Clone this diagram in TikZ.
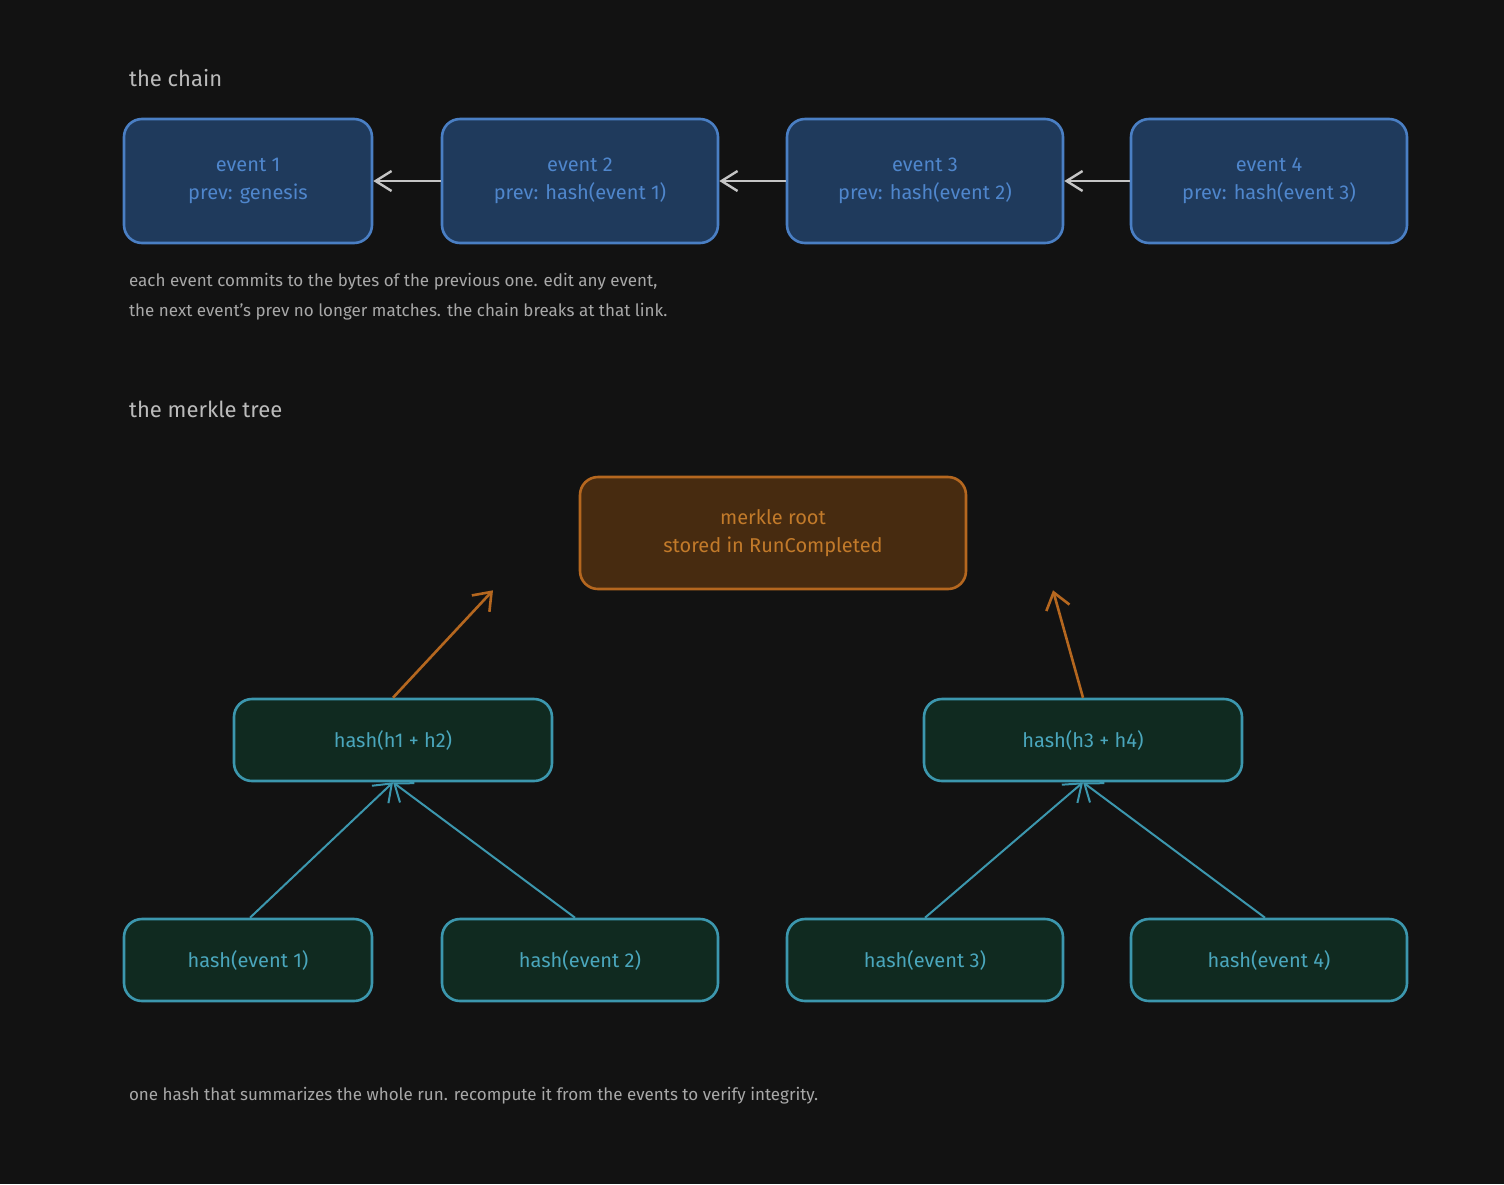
\documentclass[tikz,border=0pt]{standalone}
\usepackage{fontspec}
\setmainfont{Fira Sans}
\usetikzlibrary{arrows.meta}
\definecolor{bg}{HTML}{121212}
\definecolor{bfill}{HTML}{1F3A5C}
\definecolor{bline}{HTML}{4A7FC4}
\definecolor{btext}{HTML}{4F86CC}
\definecolor{ofill}{HTML}{472B10}
\definecolor{oline}{HTML}{B5671F}
\definecolor{otext}{HTML}{C27A2A}
\definecolor{gfill}{HTML}{102A20}
\definecolor{gline}{HTML}{3C97AE}
\definecolor{gtext}{HTML}{4AA6BC}
\definecolor{ttl}{HTML}{BBBBBB}
\definecolor{cap}{HTML}{A8A8A8}
\begin{document}
\begin{tikzpicture}[x=0.5pt,y=-0.5pt,
 box/.style={draw,line width=1.3pt,rounded corners=9pt,align=center,inner sep=0pt,font=\fontsize{10}{14}\selectfont},
 blue/.style={box,fill=bfill,draw=bline,text=btext,minimum width=124pt,minimum height=62pt},
 green/.style={box,fill=gfill,draw=gline,text=gtext,minimum height=41pt},
 orange/.style={box,fill=ofill,draw=oline,text=otext,minimum width=193pt,minimum height=56pt},
 title/.style={anchor=west,text=ttl,font=\fontsize{11}{13}\selectfont},
 caption/.style={anchor=west,text=cap,align=left,font=\fontsize{8.5}{15}\selectfont},
 chainarr/.style={draw=ttl!85,line width=1.2pt,-{Straight Barb[length=8pt,width=10pt]}},
 garr/.style={draw=gline,line width=1pt,-{Straight Barb[length=8pt,width=12pt]}},
 oarr/.style={draw=oline,line width=1.3pt,-{Straight Barb[length=8pt,width=12pt]}}]
\fill[bg] (0,0) rectangle (1504,1184);
\node[title] (t1) at (122,78) {the chain};
\node[blue] (e1) at (248,181) {event 1\\prev: genesis};
\node[blue,minimum width=138pt] (e2) at (580,181) {event 2\\prev: hash(event 1)};
\node[blue,minimum width=138pt] (e3) at (925,181) {event 3\\prev: hash(event 2)};
\node[blue,minimum width=138pt] (e4) at (1269,181) {event 4\\prev: hash(event 3)};
\draw[chainarr] (e2) -- (e1);
\draw[chainarr] (e3) -- (e2);
\draw[chainarr] (e4) -- (e3);
\node[caption] (c1) at (122,297) {each event commits to the bytes of the previous one. edit any event,\\the next event's prev no longer matches. the chain breaks at that link.};
\node[title] (t2) at (122,409) {the merkle tree};
\node[orange] (root) at (773,533) {merkle root\\stored in RunCompleted};
\node[green,minimum width=159pt] (h12) at (393,740) {hash(h1 + h2)};
\node[green,minimum width=159pt] (h34) at (1083,740) {hash(h3 + h4)};
\node[green,minimum width=124pt] (l1) at (248,960) {hash(event 1)};
\node[green,minimum width=138pt] (l2) at (580,960) {hash(event 2)};
\node[green,minimum width=138pt] (l3) at (925,960) {hash(event 3)};
\node[green,minimum width=138pt] (l4) at (1269,960) {hash(event 4)};
\draw[garr] (l1.north) ++(2,0) -- (h12.south);
\draw[garr] (l2.north) ++(-5,0) -- (h12.south);
\draw[garr] (l3.north) -- (h34.south);
\draw[garr] (l4.north) ++(-4,0) -- (h34.south);
\draw[oarr] (h12.north) -- ([xshift=-140]root.south);
\draw[oarr] (h34.north) -- ([xshift=140]root.south);
\node[caption] (c2) at (122,1096) {one hash that summarizes the whole run. recompute it from the events to verify integrity.};
\end{tikzpicture}
\end{document}
